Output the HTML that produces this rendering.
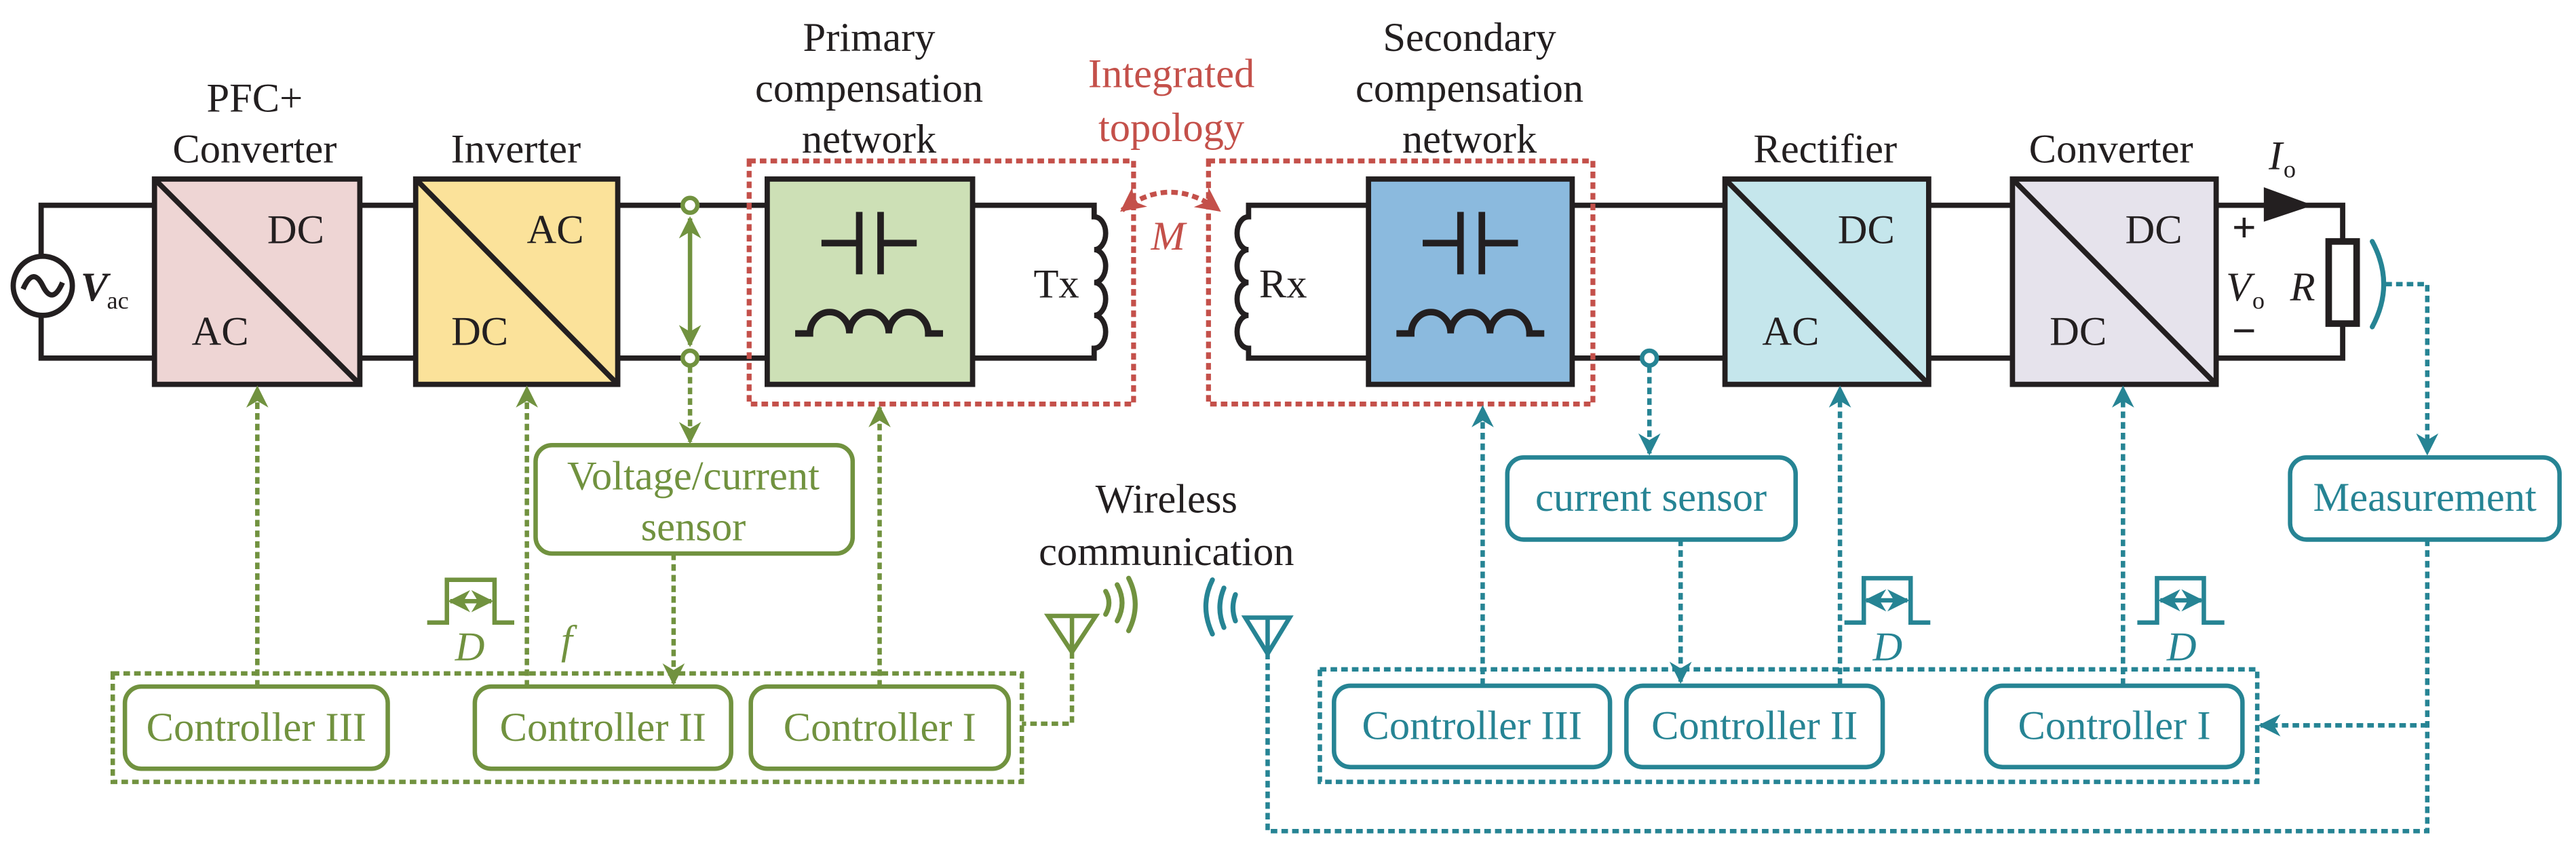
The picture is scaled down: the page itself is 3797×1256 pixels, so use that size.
<!DOCTYPE html>
<html><head><meta charset="utf-8"><style>html,body{margin:0;padding:0;background:#fff}svg{display:block}text{font-family:"Liberation Serif","DejaVu Serif",serif}</style></head>
<body>
<svg width="3797" height="1256" viewBox="0 0 1568 518.7" xmlns="http://www.w3.org/2000/svg">
<defs>
<marker id="ag" viewBox="0 0 10 10" refX="9" refY="5" markerWidth="5" markerHeight="5" orient="auto-start-reverse" markerUnits="strokeWidth"><path d="M0,0 L10,5 L0,10 L3,5z" fill="#71923f"/></marker>
<marker id="ab" viewBox="0 0 10 10" refX="9" refY="5" markerWidth="5" markerHeight="5" orient="auto-start-reverse" markerUnits="strokeWidth"><path d="M0,0 L10,5 L0,10 L3,5z" fill="#268494"/></marker>
<marker id="ar" viewBox="0 0 10 10" refX="9" refY="5" markerWidth="5" markerHeight="5" orient="auto-start-reverse" markerUnits="strokeWidth"><path d="M0,0 L10,5 L0,10 L3,5z" fill="#c4504a"/></marker>
</defs>
<g stroke="#231f20" stroke-width="3.2" fill="none">
<polyline points="94,125 25,125 25,218 94,218"/>
<line x1="219" y1="125" x2="253" y2="125"/><line x1="219" y1="218" x2="253" y2="218"/>
<line x1="376" y1="125" x2="467" y2="125"/><line x1="376" y1="218" x2="467" y2="218"/>
<path d="M592 125 H666 V132 a7 10 0 0 1 0 20 a7 10 0 0 1 0 20 a7 10 0 0 1 0 20 a7 10 0 0 1 0 20 V218 H592"/>
<path d="M833 125 H760 V132 a7 10 0 0 0 0 20 a7 10 0 0 0 0 20 a7 10 0 0 0 0 20 a7 10 0 0 0 0 20 V218 H833"/>
<line x1="957" y1="125" x2="1050" y2="125"/><line x1="957" y1="218" x2="1050" y2="218"/>
<line x1="1174" y1="125" x2="1225" y2="125"/><line x1="1174" y1="218" x2="1225" y2="218"/>
<polyline points="1349,125 1426,125 1426,218 1349,218"/>
</g>
<path d="M1378 114 L1408 125 L1378 135z" fill="#231f20"/>
<rect x="1417.5" y="147" width="17" height="50" fill="#fff" stroke="#231f20" stroke-width="4"/>
<circle cx="26" cy="174" r="18" fill="#fff" stroke="#231f20" stroke-width="3.2"/>
<path d="M14 176 q6 -14 12 -2 q6 12 12 -2" fill="none" stroke="#231f20" stroke-width="3.2"/>
<g stroke="#231f20" stroke-width="3.2">
<rect x="94" y="109" width="125" height="125" fill="#eed5d4"/><line x1="94" y1="109" x2="219" y2="234"/>
<rect x="253" y="109" width="123" height="125" fill="#fbe29a"/><line x1="253" y1="109" x2="376" y2="234"/>
<rect x="467" y="109" width="125" height="125" fill="#cde0b6"/>
<rect x="833" y="109" width="124" height="125" fill="#8bbade"/>
<rect x="1050" y="109" width="124" height="125" fill="#c5e6ec"/><line x1="1050" y1="109" x2="1174" y2="234"/>
<rect x="1225" y="109" width="124" height="125" fill="#e6e3ec"/><line x1="1225" y1="109" x2="1349" y2="234"/>
</g>
<g stroke="#231f20" stroke-width="4" fill="none">
<path d="M500 148 H523 M536 148 H558 M523 129 V167 M536 129 V167"/>
<path d="M484 203 H493 a12 13 0 0 1 24 0 a12 13 0 0 1 24 0 a12 13 0 0 1 24 0 H574"/>
<path d="M866 148 H889 M902 148 H924 M889 129 V167 M902 129 V167"/>
<path d="M850 203 H859 a12 13 0 0 1 24 0 a12 13 0 0 1 24 0 a12 13 0 0 1 24 0 H940"/>
</g>
<g stroke="#c4504a" stroke-width="3" fill="none" stroke-dasharray="4 2.5">
<rect x="456" y="98" width="234" height="148"/>
<rect x="735.6" y="98" width="234" height="148"/>
<path d="M683 128 Q712 106 742 128" marker-start="url(#ar)" marker-end="url(#ar)"/>
</g>
<g stroke="#71923f" stroke-width="2.7" fill="none">
<circle cx="420" cy="125" r="4.5" fill="#fff"/><circle cx="420" cy="218" r="4.5" fill="#fff"/>
<line x1="420" y1="133" x2="420" y2="210" marker-start="url(#ag)" marker-end="url(#ag)"/>
<rect x="326" y="271" width="193" height="66" rx="10"/>
<rect x="76" y="418" width="160" height="50" rx="10"/>
<rect x="289" y="418" width="156" height="50" rx="10"/>
<rect x="457" y="418" width="157" height="50" rx="10"/>
<path d="M260 379 H272 V353 H301 V379 H313"/>
<line x1="274" y1="366" x2="299" y2="366" marker-start="url(#ag)" marker-end="url(#ag)"/>
<path d="M638 375 H667 L652.5 397z M652.5 375 V397"/>
<path d="M673 360 q4 7 0 14 M680 356 q6 11 0 22 M687 352 q8 16 0 32" stroke-linecap="round" stroke-width="3"/>
<g stroke-dasharray="4 2.5">
<rect x="68.6" y="410" width="553.4" height="66"/>
<line x1="420" y1="223" x2="420" y2="269" marker-end="url(#ag)"/>
<line x1="156.6" y1="418" x2="156.6" y2="236" marker-end="url(#ag)"/>
<line x1="320.7" y1="418" x2="320.7" y2="236" marker-end="url(#ag)"/>
<line x1="535.4" y1="418" x2="535.4" y2="248" marker-end="url(#ag)"/>
<line x1="410" y1="337" x2="410" y2="416" marker-end="url(#ag)"/>
<polyline points="652.5,397 652.5,440.6 622,440.6"/>
</g>
</g>
<g stroke="#268494" stroke-width="2.7" fill="none">
<circle cx="1004" cy="218" r="4.5" fill="#fff"/>
<rect x="917.5" y="278.5" width="175.5" height="50" rx="10"/>
<rect x="1394" y="278.5" width="164" height="50" rx="10"/>
<rect x="812" y="417.5" width="168" height="49.5" rx="10"/>
<rect x="990" y="417.5" width="156" height="49.5" rx="10"/>
<rect x="1209" y="417.5" width="156" height="49.5" rx="10"/>
<path d="M1122.7 379 H1134.5 V352 H1163 V379 H1175"/>
<line x1="1136" y1="365.5" x2="1161" y2="365.5" marker-start="url(#ab)" marker-end="url(#ab)"/>
<path d="M1301 379 H1313 V352 H1341.5 V379 H1354"/>
<line x1="1315" y1="365.5" x2="1340" y2="365.5" marker-start="url(#ab)" marker-end="url(#ab)"/>
<path d="M758 376 H785 L771.6 398z M771.6 376 V398"/>
<path d="M752 362 q-3 8 0 16 M745 358 q-5 12 0 24 M738 353 q-8 16 0 33" stroke-linecap="round" stroke-width="3"/>
<path d="M1444 147 q14 26 0 52" stroke-width="3" stroke-linecap="round"/>
<g stroke-dasharray="4 2.5">
<rect x="803.4" y="407.5" width="570.6" height="68.5"/>
<line x1="1004" y1="223" x2="1004" y2="276" marker-end="url(#ab)"/>
<line x1="1023" y1="328.5" x2="1023" y2="415" marker-end="url(#ab)"/>
<line x1="902.5" y1="417" x2="902.5" y2="248" marker-end="url(#ab)"/>
<line x1="1120" y1="417" x2="1120" y2="236" marker-end="url(#ab)"/>
<line x1="1292.3" y1="417" x2="1292.3" y2="236" marker-end="url(#ab)"/>
<polyline points="1452,173 1477.5,173 1477.5,276" marker-end="url(#ab)"/>
<polyline points="1477.5,328.5 1477.5,506 771.6,506 771.6,398"/>
<line x1="1477.5" y1="441.6" x2="1376" y2="441.6" marker-end="url(#ab)"/>
</g>
</g>
<g fill="#231f20" font-size="25" text-anchor="middle">
<text x="155" y="68">PFC+</text>
<text x="155" y="99">Converter</text>
<text x="314" y="99">Inverter</text>
<text x="529" y="31">Primary</text><text x="529" y="62">compensation</text><text x="529" y="93">network</text>
<text x="894.5" y="31">Secondary</text><text x="894.5" y="62">compensation</text><text x="894.5" y="93">network</text>
<text x="1111" y="99">Rectifier</text>
<text x="1285" y="99">Converter</text>
<text x="710" y="312">Wireless</text><text x="710" y="344">communication</text>
<text x="180" y="148">DC</text><text x="134" y="210">AC</text>
<text x="338" y="148">AC</text><text x="292" y="210">DC</text>
<text x="1136" y="148">DC</text><text x="1090" y="210">AC</text>
<text x="1311" y="148">DC</text><text x="1265" y="210">DC</text>
<text x="643" y="181">Tx</text>
<text x="781" y="181">Rx</text>
</g>
<g fill="#231f20" font-size="25" font-style="italic">
<text x="49" y="183" font-weight="bold">V</text><text x="65" y="188" font-size="15" font-style="normal">ac</text>
<text x="1381" y="103">I</text><text x="1390" y="108" font-size="15" font-style="normal">o</text>
<text x="1355" y="183">V</text><text x="1371" y="188" font-size="15" font-style="normal">o</text>
<text x="1394" y="183">R</text>
</g>
<g fill="#231f20" font-size="26" font-weight="bold" text-anchor="middle">
<text x="1366" y="147">+</text><text x="1366" y="210">−</text>
</g>
<g fill="#c4504a" font-size="25" text-anchor="middle">
<text x="713" y="53">Integrated</text><text x="713" y="86">topology</text>
<text x="711" y="152" font-style="italic">M</text>
</g>
<g fill="#71923f" font-size="25" text-anchor="middle">
<text x="422" y="298">Voltage/current</text><text x="422" y="329">sensor</text>
<text x="156" y="451">Controller III</text>
<text x="367" y="451">Controller II</text>
<text x="535.5" y="451">Controller I</text>
<text x="286" y="402" font-style="italic">D</text>
<text x="345" y="398" font-style="italic">f</text>
</g>
<g fill="#268494" font-size="25" text-anchor="middle">
<text x="1005" y="311">current sensor</text>
<text x="1476" y="311">Measurement</text>
<text x="896" y="450">Controller III</text>
<text x="1068" y="450">Controller II</text>
<text x="1287" y="450">Controller I</text>
<text x="1149" y="402" font-style="italic">D</text>
<text x="1328" y="402" font-style="italic">D</text>
</g>
</svg>
</body></html>
